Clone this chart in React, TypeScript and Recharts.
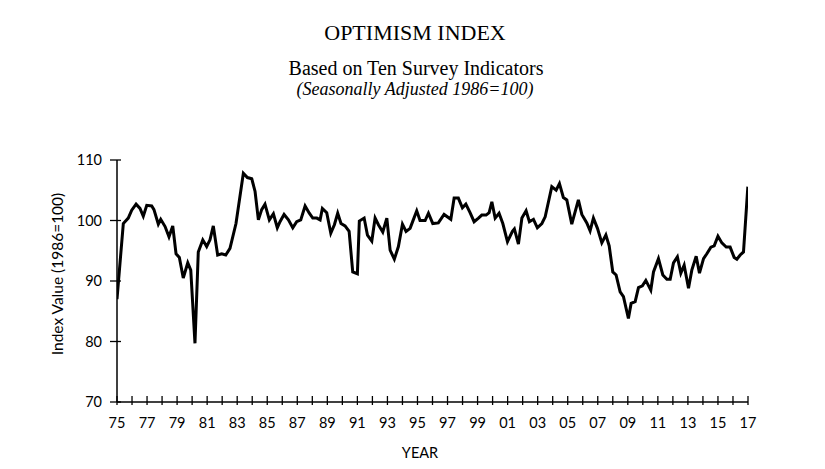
import React from "react";
import { LineChart, Line, XAxis, YAxis } from "recharts";

const years = [
  1975.0, 1975.42, 1975.75, 1975.98, 1976.27, 1976.53, 1976.75, 1976.98, 1977.31, 1977.46,
  1977.75, 1977.91, 1978.2, 1978.46, 1978.71, 1978.93, 1979.15, 1979.41, 1979.71, 1979.91,
  1980.19, 1980.41, 1980.71, 1980.97, 1981.19, 1981.41, 1981.7, 1981.97, 1982.24, 1982.52,
  1982.92, 1983.41, 1983.68, 1983.97, 1984.19, 1984.41, 1984.63, 1984.85, 1985.14, 1985.41,
  1985.67, 1985.85, 1986.12, 1986.41, 1986.7, 1986.96, 1987.23, 1987.52, 1987.8, 1988.03,
  1988.3, 1988.52, 1988.67, 1988.96, 1989.23, 1989.47, 1989.69, 1989.91, 1990.18, 1990.45,
  1990.69, 1991.0, 1991.13, 1991.45, 1991.67, 1991.96, 1992.18, 1992.4, 1992.69, 1992.96,
  1993.18, 1993.46, 1993.73, 1994.0, 1994.24, 1994.51, 1994.69, 1994.95, 1995.17, 1995.51,
  1995.73, 1996.02, 1996.39, 1996.77, 1997.22, 1997.44, 1997.72, 1997.99, 1998.22, 1998.5,
  1998.77, 1999.06, 1999.28, 1999.57, 1999.77, 1999.95, 2000.17, 2000.43, 2000.68, 2000.99,
  2001.32, 2001.45, 2001.72, 2001.95, 2002.23, 2002.45, 2002.72, 2002.98, 2003.28, 2003.5,
  2003.94, 2004.23, 2004.45, 2004.71, 2004.94, 2005.27, 2005.71, 2005.94, 2006.27, 2006.49,
  2006.71, 2006.98, 2007.27, 2007.54, 2007.76, 2008.0, 2008.22, 2008.49, 2008.71, 2009.04,
  2009.22, 2009.49, 2009.71, 2009.97, 2010.2, 2010.53, 2010.71, 2011.04, 2011.33, 2011.6,
  2011.82, 2012.04, 2012.3, 2012.53, 2012.75, 2013.04, 2013.26, 2013.55, 2013.77, 2014.04,
  2014.26, 2014.53, 2014.75, 2015.0, 2015.26, 2015.55, 2015.81, 2016.08, 2016.26, 2016.48,
  2016.7, 2016.99,
];

const values = [
  87.0, 99.5, 100.4, 101.7, 102.7, 102.0, 100.7, 102.5, 102.4, 101.8,
  99.4, 100.2, 99.0, 97.3, 99.1, 94.5, 93.9, 90.5, 93.0, 91.8,
  79.7, 94.8, 96.8, 95.7, 96.8, 99.1, 94.3, 94.5, 94.3, 95.4,
  99.5, 107.8, 107.1, 106.9, 104.8, 100.1, 101.8, 102.7, 100.1, 101.1,
  98.8, 99.8, 101.0, 100.1, 98.8, 99.8, 100.1, 102.4, 101.2, 100.4,
  100.4, 100.1, 102.0, 101.3, 97.9, 99.3, 101.2, 99.5, 99.1, 98.2,
  91.5, 91.2, 99.9, 100.4, 97.6, 96.6, 100.4, 99.3, 98.1, 100.4,
  95.1, 93.6, 95.7, 99.4, 98.2, 98.7, 99.9, 101.6, 100.0, 100.0,
  101.2, 99.5, 99.6, 101.0, 100.2, 103.7, 103.7, 102.1, 102.7, 101.3,
  99.8, 100.4, 100.9, 100.9, 101.3, 103.1, 100.4, 101.2, 99.5, 96.5,
  98.2, 98.6, 96.1, 100.4, 101.6, 99.8, 100.2, 98.8, 99.5, 100.6,
  105.6, 105.0, 106.1, 103.8, 103.4, 99.4, 103.4, 101.0, 99.6, 98.3,
  100.4, 98.7, 96.3, 97.6, 95.8, 91.5, 91.0, 88.2, 87.4, 83.8,
  86.3, 86.6, 88.9, 89.2, 90.1, 88.5, 91.5, 93.7, 91.0, 90.3,
  90.3, 93.0, 94.0, 91.3, 92.6, 88.8, 91.8, 94.1, 91.3, 93.7,
  94.5, 95.6, 95.8, 97.4, 96.3, 95.6, 95.6, 93.9, 93.6, 94.3,
  94.8, 105.6,
];

const xTicks = [
  1975, 1976, 1977, 1978, 1979, 1980, 1981, 1982, 1983, 1984, 1985, 1986, 1987, 1988,
  1989, 1990, 1991, 1992, 1993, 1994, 1995, 1996, 1997, 1998, 1999, 2000, 2001, 2002,
  2003, 2004, 2005, 2006, 2007, 2008, 2009, 2010, 2011, 2012, 2013, 2014, 2015, 2016, 2017,
];
const xTickLabels: Record<number, string> = {
  1975: "75", 1977: "77", 1979: "79", 1981: "81", 1983: "83", 1985: "85", 1987: "87",
  1989: "89", 1991: "91", 1993: "93", 1995: "95", 1997: "97", 1999: "99", 2001: "01",
  2003: "03", 2005: "05", 2007: "07", 2009: "09", 2011: "11", 2013: "13", 2015: "15",
  2017: "17",
};
const yTicks = [70, 80, 90, 100, 110];

const data = years.map((year, i) => ({ year, value: values[i] }));

const AXIS_FONT = "Lato, 'Open Sans', sans-serif";
const SERIF = "'Liberation Serif', 'Times New Roman', serif";

const XTick = (props: any) => {
  const { x, y, payload } = props;
  const label = xTickLabels[payload.value];
  return (
    <g>
      <line x1={x} x2={x} y1={y - 6} y2={y + 3} stroke="#000" strokeWidth={1.3} />
      {label ? (
        <text x={x} y={y + 26} textAnchor="middle" fontFamily={AXIS_FONT} fontSize={14.5} fill="#000">
          {label}
        </text>
      ) : null}
    </g>
  );
};

const YTick = (props: any) => {
  const { x, y, payload } = props;
  return (
    <g>
      <line x1={x - 7} x2={x + 4} y1={y} y2={y} stroke="#000" strokeWidth={1.3} />
      <text x={x - 15} y={y + 5} textAnchor="end" fontFamily={AXIS_FONT} fontSize={14.5} fill="#000">
        {payload.value}
      </text>
    </g>
  );
};

export default function App() {
  return (
    <div style={{ position: "absolute", left: 0, top: 0, width: 825, height: 469, background: "#fff" }}>
      <LineChart
        width={825}
        height={469}
        data={data}
        margin={{ top: 160, right: 77, bottom: 37, left: 57 }}
      >
        <XAxis
          dataKey="year"
          type="number"
          domain={[1975, 2017]}
          ticks={xTicks}
          interval={0}
          allowDataOverflow
          height={30}
          tickSize={0}
          tickMargin={0}
          tickLine={false}
          axisLine={{ stroke: "#000", strokeWidth: 1.5 }}
          tick={<XTick />}
        />
        <YAxis
          type="number"
          domain={[70, 110]}
          ticks={yTicks}
          interval={0}
          width={60}
          tickSize={0}
          tickMargin={0}
          tickLine={false}
          axisLine={{ stroke: "#000", strokeWidth: 1.5 }}
          tick={<YTick />}
        />
        <Line
          type="linear"
          dataKey="value"
          stroke="#000"
          strokeWidth={3}
          dot={false}
          activeDot={false}
          isAnimationActive={false}
        />
      </LineChart>
      <svg
        width={825}
        height={469}
        style={{ position: "absolute", left: 0, top: 0, pointerEvents: "none" }}
      >
        <text x={415} y={40} textAnchor="middle" fontFamily={SERIF} fontSize={22} fill="#000">
          OPTIMISM INDEX
        </text>
        <text x={416} y={75} textAnchor="middle" fontFamily={SERIF} fontSize={20} fill="#000">
          Based on Ten Survey Indicators
        </text>
        <text x={415} y={95} textAnchor="middle" fontFamily={SERIF} fontSize={18} fontStyle="italic" fill="#000">
          (Seasonally Adjusted 1986=100)
        </text>
        <text
          x={0}
          y={0}
          transform="translate(63,274) rotate(-90)"
          textAnchor="middle"
          fontFamily={AXIS_FONT}
          fontSize={15.5}
          fill="#000"
        >
          Index Value (1986=100)
        </text>
        <text x={420} y={458} textAnchor="middle" fontFamily={AXIS_FONT} fontSize={14.5} fill="#000">
          YEAR
        </text>
      </svg>
    </div>
  );
}
